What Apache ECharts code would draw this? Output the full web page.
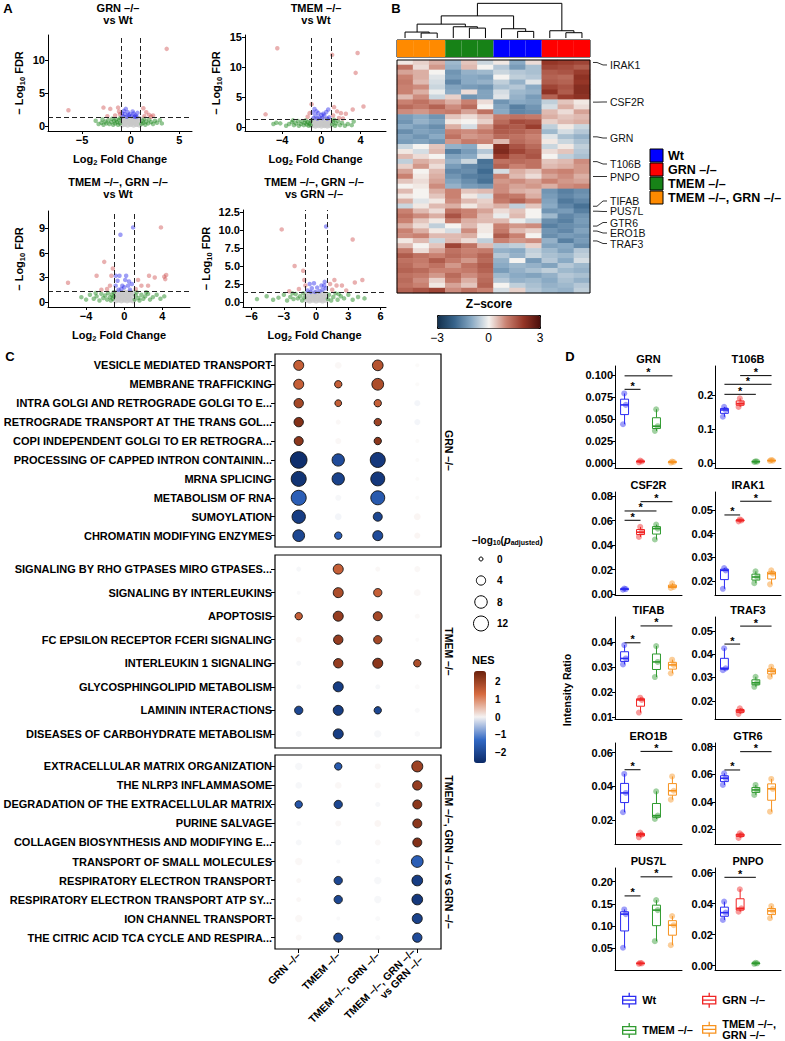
<!DOCTYPE html>
<html><head><meta charset="utf-8">
<script src="https://cdn.jsdelivr.net/npm/echarts@6.0.0/dist/echarts.min.js"></script>
<style>html,body{margin:0;padding:0;background:#fff}#c{width:785px;height:1041px}</style>
</head><body><div id="c"></div>
<script>
// ================= DATA =================
// ---- Panel A: volcano plots ----
const volcanoTitles = ['GRN –/–\nvs Wt', 'TMEM –/–\nvs Wt', 'TMEM –/–, GRN –/–\nvs Wt', 'TMEM –/–, GRN –/–\nvs GRN –/–'];
const volcanoXTicks = [[-5,0,5],[-8,-4,0,4],[-4,0,4],[-6,-3,0,3,6]];
const volcanoYTicks = [[0,5,10],[0,5,10,15],[0,3,6,9],[0,2.5,5,7.5,10,12.5]];
const volcanoYDecimals = [0,0,0,1];
const fcCut = 1;
const fdrCut = 1.3;

const v1Red = [[-6.4,2.4],[3.7,11.7],[-2.8,2.8],[-2.1,2.6],[-1.3,2.8],[-1.2,2.2],[-1.6,1.6],[-2.4,1.5],[1.3,2.7],[1.6,2.1],[1.9,1.7],[2.1,1.4],[1.4,1.5],[-1.1,1.8],[2.3,1.6]];
const v1Blue = [[-0.5,2.6],[-0.7,2.3],[-0.3,2.1],[-0.6,1.8],[-0.2,1.6],[0.1,1.5],[0.3,1.9],[0.5,1.6],[0.6,1.4],[-0.8,1.5],[-0.4,1.4],[0.2,2.2],[-0.1,1.8],[0.7,2.0],[0.4,1.4],[-0.9,1.9]];
const v1Green = [[-3.3,0.3],[-3.0,0.5],[-2.8,0.2],[-2.6,0.7],[-2.5,0.4],[-2.3,0.9],[-2.2,0.3],[-2.0,0.6],[-1.9,1.1],[-1.8,0.2],[-1.7,0.8],[-1.6,0.4],[-1.5,1.0],[-1.4,0.6],[-1.3,0.2],[-1.2,0.9],[-1.1,0.4],[-1.1,1.2],[1.1,0.3],[1.2,0.8],[1.3,0.5],[1.4,1.1],[1.5,0.2],[1.6,0.7],[1.8,0.4],[1.9,1.0],[2.1,0.6],[2.3,0.3],[2.5,0.8],[2.7,0.5],[3.0,0.9],[3.2,0.4],[-3.6,0.8],[-2.9,1.0]];
const v1Gray = [[-0.9,0.2],[-0.6,0.3],[-0.3,0.2],[0.0,0.3],[0.3,0.2],[0.6,0.3],[0.9,0.2],[-0.8,0.7],[-0.5,0.8],[-0.2,0.7],[0.1,0.8],[0.4,0.7],[0.7,0.8],[-0.9,1.1],[-0.6,1.2],[-0.3,1.1],[0.0,1.2],[0.3,1.1],[0.6,1.2],[0.9,1.1],[-0.1,0.5],[0.5,0.5],[-0.7,0.5]];

const v2Red = [[-4.5,13.1],[-5.7,2.1],[1.1,12.0],[3.7,12.3],[3.5,9.0],[4.3,3.4],[3.2,2.9],[2.5,2.2],[1.3,3.3],[1.6,2.6],[2.0,2.3],[1.2,1.9],[-1.0,3.8],[-1.2,2.3],[-1.4,1.7],[1.8,1.5],[2.2,1.4]];
const v2Blue = [[-0.7,3.0],[-0.5,2.6],[-0.3,2.3],[-0.6,1.9],[-0.2,1.6],[0.1,1.5],[0.3,1.9],[0.5,2.5],[0.7,2.9],[0.8,1.6],[-0.8,1.5],[-0.4,1.4],[0.2,2.2],[0.6,1.4],[-0.9,2.4],[0.0,2.0]];
const v2Green = [[-4.9,0.5],[-4.6,0.7],[-4.2,0.6],[-3.6,0.2],[-3.3,0.5],[-3.0,0.8],[-2.8,0.3],[-2.6,0.6],[-2.4,1.0],[-2.3,0.2],[-2.1,0.5],[-2.0,0.9],[-1.8,0.3],[-1.7,0.7],[-1.6,1.1],[-1.5,0.4],[-1.4,0.8],[-1.3,0.2],[-1.2,0.6],[-1.1,1.0],[-1.1,0.3],[1.1,0.4],[1.2,0.9],[1.4,0.2],[1.5,0.6],[1.7,1.0],[1.9,0.3],[2.1,0.7],[2.4,0.2],[2.7,0.5],[3.1,0.3],[3.3,0.9],[1.3,1.2],[-2.9,1.1]];
const v2Gray = [[-0.9,0.3],[-0.6,0.2],[-0.3,0.3],[0.0,0.2],[0.3,0.3],[0.6,0.2],[0.9,0.3],[-0.8,0.7],[-0.5,0.6],[-0.2,0.8],[0.1,0.7],[0.4,0.6],[0.7,0.7],[-0.9,1.1],[-0.6,1.2],[-0.3,1.0],[0.0,1.2],[0.3,1.1],[0.6,1.2],[0.9,1.0],[-0.1,0.5],[0.5,0.4],[-0.7,0.4]];

const v3Red = [[-5.9,2.35],[-2.1,4.9],[-2.9,3.2],[-1.35,3.2],[-1.5,2.0],[-1.2,4.1],[3.85,9.1],[2.6,3.2],[3.2,3.0],[4.2,3.1],[4.4,3.3],[4.3,2.8],[1.45,2.7],[1.8,2.0],[2.5,2.0],[-1.8,1.6],[1.2,1.6],[-2.4,1.5]];
const v3Blue = [[-0.4,8.2],[0.93,9.1],[-0.9,3.2],[-0.5,3.2],[0.2,3.2],[-0.9,2.0],[-0.2,2.0],[0.4,2.0],[0.5,2.5],[-0.7,2.6],[0.1,2.7],[-0.3,1.6],[0.6,1.5],[0.8,2.2],[-0.6,1.5],[0.0,1.8]];
const v3Green = [[-4.5,0.6],[-4.0,0.3],[-3.6,0.9],[-3.2,0.4],[-2.9,0.7],[-2.6,0.2],[-2.4,1.0],[-2.2,0.5],[-2.0,0.8],[-1.8,0.3],[-1.7,1.1],[-1.5,0.6],[-1.4,0.2],[-1.3,0.9],[-1.2,0.4],[-1.1,1.2],[-1.1,0.7],[1.1,0.3],[1.2,0.8],[1.3,1.2],[1.5,0.5],[1.6,0.2],[1.8,0.9],[2.0,0.4],[2.2,0.7],[2.5,1.0],[2.7,0.3],[3.0,0.6],[3.4,0.9],[3.8,0.4],[4.2,0.7],[2.3,1.2],[-3.0,1.1]];
const v3Gray = [[-0.9,0.2],[-0.6,0.3],[-0.3,0.2],[0.0,0.3],[0.3,0.2],[0.6,0.3],[0.9,0.2],[-0.8,0.7],[-0.5,0.8],[-0.2,0.7],[0.1,0.8],[0.4,0.7],[0.7,0.8],[-0.9,1.1],[-0.6,1.2],[-0.3,1.1],[0.0,1.2],[0.3,1.1],[0.6,1.2],[0.9,1.1],[-0.1,0.5],[0.5,0.5],[-0.7,0.5]];

const v4Red = [[-3.2,10.1],[3.4,8.7],[-2.0,5.0],[-1.2,4.35],[-1.1,3.05],[-1.0,2.3],[1.7,3.05],[1.9,2.3],[2.4,2.3],[3.6,2.7],[4.3,3.05],[1.3,2.5],[-1.6,1.8],[2.8,1.6],[-2.5,1.5],[1.5,1.7]];
const v4Blue = [[0.93,10.5],[-0.6,2.5],[-0.2,2.6],[0.5,2.3],[0.75,2.3],[0.8,2.8],[-0.8,1.6],[-0.4,1.9],[0.1,2.0],[0.3,1.5],[0.6,1.7],[-0.1,1.4],[-0.5,1.4],[0.9,1.9]];
const v4Green = [[-5.5,0.4],[-4.6,0.8],[-4.0,0.3],[-3.5,0.6],[-3.0,1.0],[-2.7,0.2],[-2.4,0.7],[-2.1,0.4],[-1.9,1.1],[-1.7,0.5],[-1.5,0.8],[-1.3,0.2],[-1.2,1.2],[-1.1,0.6],[1.1,0.4],[1.2,1.0],[1.4,0.2],[1.6,0.7],[1.8,1.2],[2.0,0.3],[2.3,0.8],[2.6,0.5],[3.0,1.0],[3.4,0.3],[3.9,0.7],[4.5,0.5],[2.1,1.1],[-2.2,1.2]];
const v4Gray = [[-0.9,0.3],[-0.6,0.2],[-0.3,0.3],[0.0,0.2],[0.3,0.3],[0.6,0.2],[0.9,0.3],[-0.8,0.7],[-0.5,0.6],[-0.2,0.8],[0.1,0.7],[0.4,0.6],[0.7,0.7],[-0.9,1.1],[-0.6,1.2],[-0.3,1.0],[0.0,1.2],[0.3,1.1],[0.6,1.2],[0.9,1.0],[-0.1,0.5],[0.5,0.4],[-0.7,0.4]];

// ---- Panel B: heatmap ----
const groupNames = ['Wt', 'GRN –/–', 'TMEM –/–', 'TMEM –/–, GRN –/–'];
const heatColumnGroups = [3,3,3,2,2,2,0,0,0,1,1,1];
// merges: [childA, childB, height]; leaves 0..11, new nodes numbered from 12
const dendroMerges = [[1,2,15],[0,12,18],[4,5,30],[3,14,34],[13,15,42],[7,8,20],[6,17,28],[10,11,16],[9,19,22],[16,18,67],[21,20,105]];
const heatRows = [
[0.1,0.3,0.6,-0.8,0.4,-0.4,0.1,-1.0,0.2,2.0,1.9,1.8],
[1.2,0.2,0.8,-0.9,0.5,0.0,-0.6,-1.2,-0.7,1.8,1.7,1.5],
[0.7,0.6,0.0,-1.3,-0.9,-0.8,-0.4,-0.6,-0.7,1.5,1.6,1.9],
[1.0,0.6,-0.2,-1.2,-1.0,-1.1,0.0,-0.5,-0.6,1.4,1.3,2.1],
[1.1,0.5,-0.3,-1.5,-1.0,-0.9,-0.5,-0.9,-0.2,1.5,1.4,2.0],
[1.0,0.9,-0.4,-1.1,-1.2,-1.3,-0.7,-0.6,-1.0,1.8,1.6,2.2],
[1.0,0.6,-0.1,-1.0,0.2,-1.1,-0.3,-0.8,-0.9,2.1,1.5,2.2],
[0.5,0.9,-0.4,0.3,-1.3,-1.1,-0.2,-0.9,-1.2,1.4,1.9,2.1],
[1.0,1.2,0.9,0.6,1.0,0.2,-1.3,-1.0,-1.1,-0.5,0.4,0.1],
[1.3,1.1,1.4,0.9,1.3,0.0,-1.1,-1.6,-1.3,-0.3,0.6,0.2],
[0.9,0.8,1.0,1.1,0.7,1.2,-1.0,-1.5,-1.4,0.5,0.2,0.7],
[-1.2,-1.0,-1.3,0.4,0.2,0.5,1.1,1.2,1.1,0.6,0.4,0.5],
[-1.3,-0.9,-1.1,0.1,0.0,0.3,1.3,1.7,1.6,0.3,0.5,0.6],
[-1.0,-1.2,-1.4,0.6,-0.3,0.8,1.6,1.5,1.9,-0.5,0.1,-0.4],
[-1.4,-1.1,-1.2,1.0,0.9,1.1,1.5,1.4,1.2,-0.8,-0.3,-0.6],
[-1.1,-1.3,-1.0,1.2,0.8,0.9,1.3,1.2,1.0,-0.2,-0.7,-0.9],
[-1.2,-1.1,-1.3,0.8,1.1,1.0,0.5,1.3,1.1,0.1,-0.4,-0.7],
[-0.4,0.0,0.4,-0.9,-1.0,0.1,2.2,1.6,1.3,-0.4,0.1,-0.5],
[0.1,-0.3,0.5,-1.6,-1.2,-0.6,2.3,1.8,1.5,0.2,0.4,-0.6],
[0.5,0.2,0.0,-1.1,-1.0,-0.2,1.9,1.4,1.6,0.0,-0.5,-0.7],
[-0.5,0.6,0.4,-0.9,-0.4,-1.8,1.2,1.3,1.2,0.4,0.5,0.9],
[0.3,0.8,0.2,-1.2,-1.5,-1.7,1.4,1.0,1.2,0.5,0.6,0.8],
[0.7,0.0,0.5,-1.5,-1.4,-1.9,-0.3,0.6,0.4,0.9,1.0,0.8],
[1.0,0.1,0.6,-1.3,-1.6,-1.7,1.0,0.5,0.2,0.7,0.9,0.6],
[0.4,0.2,0.7,-1.1,-1.4,-1.8,0.8,0.9,0.7,1.0,0.8,0.7],
[0.0,0.1,0.9,-0.9,-1.2,-1.3,0.9,0.7,0.8,0.6,0.9,1.0],
[0.5,0.0,0.6,1.0,0.4,0.5,0.9,0.6,0.5,-1.3,-1.6,-1.4],
[0.1,0.0,0.4,1.0,0.1,-0.3,1.2,1.1,0.6,-1.2,-1.5,-1.3],
[0.6,-0.2,0.1,0.9,0.5,0.3,1.1,1.4,1.0,-1.1,-1.7,-1.5],
[-0.4,0.1,0.5,0.6,0.1,0.4,0.6,-0.5,0.4,-1.0,-1.5,-1.8],
[1.0,0.5,0.2,1.2,1.0,0.7,0.2,0.4,0.0,-1.3,-1.2,-1.6],
[1.2,0.9,0.6,1.6,1.0,0.5,-0.1,0.5,0.0,-0.8,-1.5,-1.3],
[1.0,0.4,0.1,1.1,0.6,0.5,0.5,-0.1,-0.4,-1.4,-1.6,-1.2],
[0.6,0.2,-0.5,0.0,0.5,0.1,1.0,0.8,0.9,-1.6,-1.4,-1.3],
[1.0,0.6,0.1,-0.3,0.9,0.1,1.1,0.5,0.3,-1.3,-1.5,-1.1],
[0.9,1.0,0.5,0.5,0.6,0.0,1.5,1.0,0.0,-1.4,-1.2,-1.3],
[0.1,0.5,-0.4,0.5,0.2,-0.5,1.0,0.8,0.9,-0.9,-1.6,-1.2],
[0.5,0.0,0.4,1.8,1.2,0.5,-0.6,-0.5,0.3,-1.1,-1.0,-1.4],
[1.1,0.2,0.7,1.2,1.0,1.1,-0.9,-1.0,-0.5,-0.8,-1.1,-0.6],
[1.5,1.2,1.0,1.3,1.1,1.4,-0.6,-0.9,-0.4,-0.7,-0.8,-0.5],
[1.2,1.1,1.5,1.1,0.8,1.3,-0.9,0.0,-1.2,-0.6,-1.0,-0.3],
[1.3,1.0,1.2,0.8,1.2,1.5,-1.0,-0.8,-0.9,-1.1,-0.6,-0.8],
[1.4,1.3,1.0,1.0,1.1,1.4,-1.2,-0.9,-0.7,-0.5,-0.8,-0.9],
[1.2,1.1,0.8,1.3,0.9,1.2,-0.8,-1.0,-1.1,-0.9,-0.6,-0.7],
[1.3,0.9,0.3,1.1,0.6,1.3,-0.6,-0.9,-0.8,-1.0,-0.7,-0.9],
[1.2,1.0,0.1,0.7,0.4,1.4,0.0,-0.5,-0.7,-0.9,-0.8,-0.6],
[1.4,1.6,1.8,0.9,1.2,1.0,-0.3,0.3,-0.6,-0.8,-0.9,-0.5]
];
const markedGenes = ['IRAK1','CSF2R','GRN','T106B','PNPO','TIFAB','PUS7L','GTR6','ERO1B','TRAF3'];
const markedRows = [0,8,15,20,23,29,30,33,34,36];
const markedLabelRows = [0.5,7.97,15.24,20.48,23.0,27.94,30.06,32.28,34.4,36.52];
const zTicks = [-3,0,3];

// ---- Panel C: GSEA dot plot ----
const dotColumns = ['GRN –/–','TMEM –/–','TMEM –/–, GRN –/–','TMEM –/–, GRN –/–\nvs GRN –/–'];
const facetNames = ['GRN –/–','TMEM –/–','TMEM –/–, GRN –/– vs GRN –/–'];
const pathwaysA = ['VESICLE MEDIATED TRANSPORT','MEMBRANE TRAFFICKING','INTRA GOLGI AND RETROGRADE GOLGI TO E...','RETROGRADE TRANSPORT AT THE TRANS GOL...','COPI INDEPENDENT GOLGI TO ER RETROGRA...','PROCESSING OF CAPPED INTRON CONTAININ...','MRNA SPLICING','METABOLISM OF RNA','SUMOYLATION','CHROMATIN MODIFYING ENZYMES'];
const nesA = [[1.5,0.1,1.7,0.02],[1.5,1.5,1.8,0.02],[1.9,1.5,1.5,-0.15],[2.3,0.1,2.0,-0.15],[2.2,0.1,2.2,0.02],[-2.5,-1.9,-2.3,0.02],[-2.4,-2.1,-2.3,0.02],[-1.5,-0.1,-1.6,0.02],[-2.2,-0.15,-2.0,0.15],[-2.0,-1.5,-1.9,0.15]];
const padjA = [[4.8,1.7,5.6,0],[4.8,2.2,7,0],[4.1,1.7,2.2,1.15],[4.1,0.5,2.2,1.15],[3.7,1.15,2.2,0],[15,7.8,12,0],[12,7.8,10.3,0],[12,1.15,10.3,0],[9.3,1.7,3.7,1.7],[7,2.2,4.8,1.15]];
const pathwaysB = ['SIGNALING BY RHO GTPASES MIRO GTPASES...','SIGNALING BY INTERLEUKINS','APOPTOSIS','FC EPSILON RECEPTOR FCERI SIGNALING','INTERLEUKIN 1 SIGNALING','GLYCOSPHINGOLIPID METABOLISM','LAMININ INTERACTIONS','DISEASES OF CARBOHYDRATE METABOLISM'];
const nesB = [[-0.1,1.5,0.1,0.1],[-0.05,1.8,1.5,0.1],[1.5,2.1,1.9,0.05],[0.1,2.1,1.9,0.0],[-0.1,2.1,2.2,1.8],[-0.1,-2.2,-0.1,0.0],[-2.0,-2.2,-2.0,-0.05],[-0.1,-2.2,-0.1,-0.05]];
const padjB = [[0.5,4.8,0.5,1.15],[0,4.8,3,1.7],[2.2,4.8,3.7,0.5],[1.15,4.1,3,0],[0.5,4.1,4.8,2.2],[0.5,4.8,0.5,0.5],[3,4.8,2.2,0.5],[1.15,4.8,2.2,0.8]];
const pathwaysC = ['EXTRACELLULAR MATRIX ORGANIZATION','THE NLRP3 INFLAMMASOME','DEGRADATION OF THE EXTRACELLULAR MATRIX','PURINE SALVAGE','COLLAGEN BIOSYNTHESIS AND MODIFYING E...','TRANSPORT OF SMALL MOLECULES','RESPIRATORY ELECTRON TRANSPORT','RESPIRATORY ELECTRON TRANSPORT ATP SY...','ION CHANNEL TRANSPORT','THE CITRIC ACID TCA CYCLE AND RESPIRA...'];
const nesC = [[-0.1,-1.6,0.1,2.0],[-0.1,0.1,0.1,2.1],[-1.7,-2.0,-0.1,2.2],[-0.05,0.1,0.15,2.2],[-0.1,-0.1,0.1,2.3],[0.1,-0.05,-0.05,-1.5],[0.1,-2.0,-0.1,-2.2],[0.1,-2.0,-0.1,-2.3],[0.1,-0.05,-0.05,-2.1],[0.1,-2.0,-0.05,-1.9]];
const padjC = [[2.2,2.2,1.15,6],[1.7,1.7,1.15,4.1],[2.2,3,0.5,3.7],[0.5,1.15,1.7,3.7],[1.15,1.15,1.15,3.7],[2.2,0,0.5,7],[0.5,3,2.2,5.6],[0.5,3,2.2,5.6],[2.2,0,0.5,4.8],[1.15,3.7,0.5,4.1]];
const sizeLegendValues = [0,4,8,12];
const nesTicks = [2,1,0,-1,-2];

// ---- Panel D: box plots ----
const dGroups = ['Wt','GRN –/–','TMEM –/–','TMEM –/–,\nGRN –/–'];
const dGenes = ['GRN','T106B','CSF2R','IRAK1','TIFAB','TRAF3','ERO1B','GTR6','PUS7L','PNPO'];
const ptsGRN   = [[0.044,0.066,0.079],[0.0008,0.0017,0.0028],[0.0365,0.0418,0.061],[0.0005,0.0011,0.0017]];
const ptsT106B = [[0.136,0.156,0.165],[0.165,0.175,0.19],[0.003,0.004,0.005],[0.006,0.007,0.009]];
const ptsCSF2R = [[0.0035,0.004,0.0045],[0.0466,0.0505,0.0548],[0.0445,0.0534,0.0567],[0.005,0.0058,0.0088]];
const ptsIRAK1 = [[0.0167,0.0245,0.0255],[0.0452,0.0456,0.046],[0.0191,0.0217,0.0241],[0.0186,0.0231,0.0245]];
const ptsTIFAB = [[0.0311,0.0335,0.0389],[0.0117,0.0168,0.0177],[0.026,0.0321,0.0385],[0.0275,0.0309,0.033]];
const ptsTRAF3 = [[0.0331,0.0339,0.0425],[0.0144,0.0157,0.0168],[0.026,0.0277,0.0303],[0.0303,0.0327,0.0346]];
const ptsERO1B = [[0.0246,0.0361,0.0474],[0.0097,0.0113,0.0125],[0.0206,0.0226,0.037],[0.0321,0.0374,0.0459]];
const ptsGTR6  = [[0.0522,0.0571,0.0607],[0.0137,0.0159,0.0171],[0.045,0.0486,0.0522],[0.0328,0.0494,0.0566]];
const ptsPUS7L = [[0.0512,0.127,0.1376],[0.015,0.016,0.017],[0.066,0.136,0.1585],[0.057,0.102,0.1225]];
const ptsPNPO  = [[0.0295,0.0342,0.0413],[0.0348,0.037,0.0493],[0.0012,0.0015,0.0018],[0.0306,0.0353,0.0385]];
const sigGRN   = [[1,2,0.0837],[1,4,0.099]];
const sigT106B = [[1,3,0.202],[1,4,0.2315],[2,4,0.257]];
const sigCSF2R = [[1,2,0.0602],[1,3,0.0678],[2,4,0.0754]];
const sigIRAK1 = [[1,2,0.0479],[2,4,0.0537]];
const sigTIFAB = [[1,2,0.0398],[2,4,0.0466]];
const sigTRAF3 = [[1,2,0.0443],[2,4,0.052]];
const sigERO1B = [[1,2,0.0499],[2,4,0.0608]];
const sigGTR6  = [[1,2,0.0631],[2,4,0.0764]];
const sigPUS7L = [[1,2,0.168],[2,4,0.211]];
const sigPNPO  = [[1,3,0.057]];
const ticksGRN = [0,0.025,0.05,0.075,0.1], ticksT106B = [0,0.1,0.2], ticksCSF2R = [0,0.02,0.04,0.06,0.08], ticksIRAK1 = [0.02,0.03,0.04,0.05], ticksTIFAB = [0.01,0.02,0.03,0.04];
const ticksTRAF3 = [0.02,0.03,0.04,0.05], ticksERO1B = [0.02,0.04,0.06], ticksGTR6 = [0.02,0.04,0.06,0.08], ticksPUS7L = [0.05,0.1,0.15,0.2], ticksPNPO = [0,0.02,0.04,0.06];
const jitterOffsets = [-0.1, 0.08, -0.02];

// ================= STYLE / LAYOUT =================
const FONT = "'Liberation Sans', Arial, Helvetica, sans-serif";
const TB = (s, w) => ({fontFamily: FONT, fontSize: s, fontWeight: w || 'bold', color: '#000'});
const fmt = (v, d) => (v < 0 ? '\u2212' : '') + Math.abs(v).toFixed(d);
const grids = [], xAxes = [], yAxes = [], series = [], graphics = [], visualMaps = [], legends = [];
function addGrid(g, xa, ya) {
  const i = grids.length;
  grids.push(Object.assign({outerBoundsMode: 'none', containLabel: false}, g));
  xa.gridIndex = i; ya.gridIndex = i; xAxes.push(xa); yAxes.push(ya); return i;
}
function gText(x, y, text, style, extra) {
  graphics.push(Object.assign({type: 'text', x: x, y: y, silent: true,
    style: Object.assign({text: text, fill: '#000', font: 'bold 12px ' + FONT, align: 'center', verticalAlign: 'middle'}, style)}, extra || {}));
}
const axisBlack = {show: true, onZero: false, lineStyle: {color: '#000', width: 1}};

// ---------- Panel letters ----------
gText(8, 8, 'A', {font: 'bold 13px ' + FONT});
gText(396, 8, 'B', {font: 'bold 13px ' + FONT});
gText(10, 356, 'C', {font: 'bold 13px ' + FONT});
gText(570, 356, 'D', {font: 'bold 13px ' + FONT});

// ---------- Panel A ----------
const volcanoLayout = [
  {left: 48, top: 35, width: 144, height: 96, xr: [-8.5, 6.3], yr: [-0.75, 13.8], tx: 118, ty: 14},
  {left: 245, top: 35, width: 141, height: 96, xr: [-7.8, 6.6], yr: [-0.67, 15.3], tx: 316, ty: 14},
  {left: 48, top: 211, width: 142, height: 96, xr: [-8.0, 6.9], yr: [-0.6, 11.1], tx: 118, ty: 188},
  {left: 243, top: 210, width: 143, height: 97, xr: [-6.8, 6.5], yr: [-0.7, 12.8], tx: 314, ty: 188}
];
const volcanoSets = [
  {gray: v1Gray, green: v1Green, blue: v1Blue, red: v1Red},
  {gray: v2Gray, green: v2Green, blue: v2Blue, red: v2Red},
  {gray: v3Gray, green: v3Green, blue: v3Blue, red: v3Red},
  {gray: v4Gray, green: v4Green, blue: v4Blue, red: v4Red}
];
const volcanoColors = {gray: '#c8c8c8', green: 'rgba(30,135,30,0.6)', blue: 'rgba(35,35,235,0.55)', red: 'rgba(205,75,75,0.55)'};
const subRich = {s: {fontFamily: FONT, fontWeight: 'bold', fontSize: 7.5, color: '#000', padding: [6, 0, 0, 0]}};
volcanoSets.forEach((vs, k) => {
  const L = volcanoLayout[k];
  const gi = addGrid({left: L.left, top: L.top, width: L.width, height: L.height},
    {type: 'value', min: L.xr[0], max: L.xr[1], axisLine: axisBlack, splitLine: {show: false},
     axisTick: {customValues: volcanoXTicks[k], length: 3, lineStyle: {color: '#000'}},
     axisLabel: Object.assign(TB(11), {customValues: volcanoXTicks[k], margin: 3, formatter: v => fmt(v, 0)}),
     name: 'Log{s|2} Fold Change', nameLocation: 'middle', nameGap: 21, nameTextStyle: Object.assign(TB(11), {rich: subRich})},
    {type: 'value', min: L.yr[0], max: L.yr[1], axisLine: axisBlack, splitLine: {show: false},
     axisTick: {customValues: volcanoYTicks[k], length: 3, lineStyle: {color: '#000'}},
     axisLabel: Object.assign(TB(11), {customValues: volcanoYTicks[k], margin: 3, formatter: v => fmt(v, volcanoYDecimals[k])}),
     name: '\u2212 Log{s|10} FDR', nameLocation: 'middle', nameRotate: 90, nameGap: k === 3 ? 30 : 22, nameTextStyle: Object.assign(TB(11), {rich: subRich})});
  ['gray', 'green', 'blue', 'red'].forEach(key => {
    const s = {type: 'scatter', xAxisIndex: gi, yAxisIndex: gi, data: vs[key], symbolSize: key === 'gray' ? 6 : 4.5,
      itemStyle: {color: volcanoColors[key]}, silent: true, clip: true};
    if (key === 'red') {
      s.markLine = {silent: true, symbol: 'none', label: {show: false}, animation: false,
        lineStyle: {type: [5, 3], color: '#222', width: 1},
        data: [{xAxis: -fcCut}, {xAxis: fcCut}, {yAxis: fdrCut}]};
    }
    series.push(s);
  });
  gText(L.tx, L.ty, volcanoTitles[k], {font: 'bold 11px ' + FONT, lineHeight: 12});
});

// ---------- Panel B ----------
const heatColors = ['#13304d', '#37648b', '#8aaac4', '#f5f3f0', '#c98171', '#953627', '#4a0d0a'];
const annoColors = ['#0000ff', '#ff0000', '#178217', '#ff8a00'];
const heatColIds = heatColumnGroups.map((g, i) => 'c' + i);
const heatRowIds = heatRows.map((r, i) => 'r' + i);
// dendrogram
const nodeX = heatColIds.map((c, i) => i + 0.5), nodeH = heatColIds.map(() => 0);
const dendroData = dendroMerges.map(([a, b, h]) => {
  const item = [nodeX[a], nodeH[a], nodeX[b], nodeH[b], h];
  nodeX.push((nodeX[a] + nodeX[b]) / 2); nodeH.push(h); return item;
});
const dg = addGrid({left: 397, top: 3, width: 193, height: 35},
  {type: 'value', min: 0, max: 12, show: false}, {type: 'value', min: 0, max: 106, show: false});
series.push({type: 'custom', xAxisIndex: dg, yAxisIndex: dg, data: dendroData, silent: true, clip: false,
  renderItem: (p, api) => {
    const a = api.coord([api.value(0), api.value(1)]), b = api.coord([api.value(0), api.value(4)]);
    const c = api.coord([api.value(2), api.value(4)]), d = api.coord([api.value(2), api.value(3)]);
    return {type: 'polyline', shape: {points: [a, b, c, d]}, style: {stroke: '#000', lineWidth: 1, fill: null}};
  }});
// annotation bar
const ag = addGrid({left: 397, top: 40, width: 193, height: 17, show: true, borderColor: '#000', borderWidth: 1},
  {type: 'category', data: heatColIds, show: false}, {type: 'value', min: 0, max: 1, show: false});
series.push({type: 'bar', xAxisIndex: ag, yAxisIndex: ag, barCategoryGap: '0%', silent: true,
  data: heatColumnGroups.map(g => ({value: 1, itemStyle: {color: annoColors[g]}}))});
// heatmap
const hg = addGrid({left: 397, top: 60, width: 193, height: 233, show: true, borderColor: '#000', borderWidth: 1, z: 5},
  {type: 'category', data: heatColIds, show: false}, {type: 'category', data: heatRowIds, inverse: true, show: false});
const heatData = [];
heatRows.forEach((row, r) => row.forEach((v, c) => heatData.push([c, r, v])));
const heatSeriesIndex = series.length;
series.push({type: 'heatmap', xAxisIndex: hg, yAxisIndex: hg, data: heatData, silent: true, progressive: 0, itemStyle: {borderWidth: 0}});
visualMaps.push({type: 'continuous', seriesIndex: heatSeriesIndex, dimension: 2, min: -3, max: 3, calculable: false, hoverLink: false,
  orient: 'horizontal', left: 437, top: 315, itemWidth: 13, itemHeight: 103, padding: 0, text: null, showLabel: false,
  borderColor: '#000', borderWidth: 1, inRange: {color: heatColors}});
// marked gene labels
series.push({type: 'custom', xAxisIndex: hg, yAxisIndex: hg, clip: false, silent: true,
  data: markedRows.map((r, i) => [11, r, markedLabelRows[i]]),
  renderItem: (p, api) => {
    const xr = p.coordSys.x + p.coordSys.width;
    const rowY = api.coord([11, api.value(1)])[1];
    const labY = rowY + (api.value(2) - api.value(1)) * api.size([0, 1])[1];
    return {type: 'group', children: [
      {type: 'polyline', shape: {points: [[xr + 3, rowY], [xr + 7, rowY], [xr + 13, labY], [xr + 17, labY]]}, style: {stroke: '#333', lineWidth: 1, fill: null}},
      {type: 'text', style: {text: markedGenes[p.dataIndex], x: xr + 20, y: labY, fill: '#111', font: '10.5px ' + FONT, align: 'left', verticalAlign: 'middle'}}
    ]};
  }});
// annotation legend
groupNames.forEach((n, i) => {
  graphics.push({type: 'rect', silent: true, shape: {x: 650, y: 149 + 14 * i, width: 13, height: 13}, style: {fill: annoColors[i], stroke: '#000', lineWidth: 1}});
  gText(668, 156 + 14 * i, n, {align: 'left', font: 'bold 12.5px ' + FONT});
});
gText(489, 304, 'Z\u2212score', {font: 'bold 12px ' + FONT});
zTicks.forEach(v => gText(437 + (v + 3) / 6 * 103, 338, fmt(v, 0), {font: '12px ' + FONT}));

// ---------- Panel C ----------
const dotColors = ['#0c2a66', '#3168c4', '#f4f2f2', '#d66a3f', '#6a200c'];
const dotSize = v => Math.sqrt(16 + 17.4 * v);
const dotFacets = [
  {names: pathwaysA, nes: nesA, padj: padjA, top: 354, height: 193},
  {names: pathwaysB, nes: nesB, padj: padjB, top: 555, height: 193},
  {names: pathwaysC, nes: nesC, padj: padjC, top: 755, height: 194}
];
const dotSeriesIdx = [];
dotFacets.forEach((F, f) => {
  const n = F.names.length, last = f === dotFacets.length - 1;
  const gi = addGrid({left: 275, top: F.top, width: 166, height: F.height, show: true, borderColor: '#000', borderWidth: 1.2},
    {type: 'value', min: 0.4, max: 4.6, splitLine: {show: false}, axisLine: {show: false},
     axisTick: {show: last, customValues: [1, 2, 3, 4], length: 4, lineStyle: {color: '#000'}},
     axisLabel: Object.assign(TB(10.5), {show: last, customValues: [1, 2, 3, 4], rotate: 45, margin: 5, formatter: v => dotColumns[Math.round(v) - 1], lineHeight: 11})},
    {type: 'value', min: 0.4, max: n + 0.6, inverse: true, splitLine: {show: false}, axisLine: {show: false},
     axisTick: {customValues: F.names.map((x, i) => i + 1), length: 4, lineStyle: {color: '#000'}},
     axisLabel: Object.assign(TB(11), {customValues: F.names.map((x, i) => i + 1), margin: 3, formatter: v => F.names[Math.round(v) - 1]})});
  const data = [];
  F.nes.forEach((row, r) => row.forEach((v, c) => {
    const strong = Math.abs(v) >= 1;
    data.push({value: [c + 1, r + 1, v, F.padj[r][c]],
      itemStyle: strong ? {borderColor: '#111', borderWidth: 0.9, opacity: 1} : {borderWidth: 0, opacity: 0.35}});
  }));
  dotSeriesIdx.push(series.length);
  series.push({type: 'scatter', xAxisIndex: gi, yAxisIndex: gi, data: data, silent: true, symbolSize: val => dotSize(val[3])});
  gText(449, F.top + F.height / 2, facetNames[f], {font: 'bold 10.5px ' + FONT}, {rotation: -Math.PI / 2});
});
visualMaps.push({type: 'continuous', seriesIndex: dotSeriesIdx, dimension: 2, min: -2.6, max: 2.6, calculable: false, hoverLink: false,
  orient: 'vertical', left: 474, top: 671, itemWidth: 12, itemHeight: 92, padding: 0, text: null, showLabel: false,
  inRange: {color: dotColors}});
nesTicks.forEach(v => gText(495, 671 + (2.6 - v) / 5.2 * 92, fmt(v, 0), {align: 'left', font: 'bold 10px ' + FONT}));
gText(472, 660, 'NES', {align: 'left', font: 'bold 11px ' + FONT});
graphics.push({type: 'text', x: 472, y: 540, silent: true, style: {
  text: '\u2212log{s|10}({i|p}{t|adjusted})', fill: '#000', font: 'bold 10px ' + FONT, align: 'left', verticalAlign: 'middle',
  rich: {s: {font: 'bold 7px ' + FONT, padding: [5, 0, 0, 0]}, i: {font: 'italic bold 11px ' + FONT}, t: {font: 'bold 7px ' + FONT, padding: [5, 0, 0, 0]}}}});
sizeLegendValues.forEach((v, i) => {
  graphics.push({type: 'circle', silent: true, shape: {cx: 481, cy: 559 + 21.5 * i, r: dotSize(v) / 2}, style: {fill: '#fff', stroke: '#000', lineWidth: 1}});
  gText(497, 559 + 21.5 * i, String(v), {align: 'left', font: 'bold 10px ' + FONT});
});

// ---------- Panel D ----------
const dColors = ['#2b2bf2', '#f02424', '#2e9a2e', '#f7921e'];
const dPlots = [
  {pts: ptsGRN, sig: sigGRN, ticks: ticksGRN, dec: 3, yr: [-0.0057, 0.1102]},
  {pts: ptsT106B, sig: sigT106B, ticks: ticksT106B, dec: 1, yr: [-0.0147, 0.2853]},
  {pts: ptsCSF2R, sig: sigCSF2R, ticks: ticksCSF2R, dec: 2, yr: [-0.0008, 0.0833]},
  {pts: ptsIRAK1, sig: sigIRAK1, ticks: ticksIRAK1, dec: 2, yr: [0.0141, 0.0576]},
  {pts: ptsTIFAB, sig: sigTIFAB, ticks: ticksTIFAB, dec: 2, yr: [0.0091, 0.0502]},
  {pts: ptsTRAF3, sig: sigTRAF3, ticks: ticksTRAF3, dec: 2, yr: [0.0122, 0.0559]},
  {pts: ptsERO1B, sig: sigERO1B, ticks: ticksERO1B, dec: 2, yr: [0.0057, 0.0658]},
  {pts: ptsGTR6, sig: sigGTR6, ticks: ticksGTR6, dec: 2, yr: [0.0093, 0.0827]},
  {pts: ptsPUS7L, sig: sigPUS7L, ticks: ticksPUS7L, dec: 2, yr: [0.0011, 0.2309]},
  {pts: ptsPNPO, sig: sigPNPO, ticks: ticksPNPO, dec: 2, yr: [-0.0028, 0.063]}
];
const dColLeft = [615, 715], dColWidth = [67, 66];
const dRowTop = [366, 492, 617, 743, 868], dRowBottom = [468, 595, 719, 844, 970];
const quant = (a, p) => { const s = a.slice().sort((x, y) => x - y); const h = (s.length - 1) * p, lo = Math.floor(h); return s[lo] + (h - lo) * ((s[lo + 1] !== undefined ? s[lo + 1] : s[lo]) - s[lo]); };
function renderBox(p, api) {
  const x = api.value(0), w = api.size([0.5, 0])[0];
  const P = [1, 2, 3, 4, 5].map(i => api.coord([x, api.value(i)]));
  const c = api.visual('color');
  const st = {stroke: c, lineWidth: 1, fill: null};
  return {type: 'group', children: [
    {type: 'line', shape: {x1: P[4][0], y1: P[4][1], x2: P[3][0], y2: P[3][1]}, style: st},
    {type: 'line', shape: {x1: P[1][0], y1: P[1][1], x2: P[0][0], y2: P[0][1]}, style: st},
    {type: 'rect', shape: {x: P[3][0] - w / 2, y: P[3][1], width: w, height: P[1][1] - P[3][1]}, style: {stroke: c, lineWidth: 1, fill: '#fff'}},
    {type: 'line', shape: {x1: P[2][0] - w / 2, y1: P[2][1], x2: P[2][0] + w / 2, y2: P[2][1]}, style: {stroke: c, lineWidth: 1.6}}
  ]};
}
function renderSig(p, api) {
  const a = api.coord([api.value(0), api.value(2)]), b = api.coord([api.value(1), api.value(2)]);
  return {type: 'group', children: [
    {type: 'line', shape: {x1: a[0], y1: a[1], x2: b[0], y2: b[1]}, style: {stroke: '#000', lineWidth: 1}},
    {type: 'text', style: {text: '*', x: (a[0] + b[0]) / 2, y: a[1] + 2, align: 'center', verticalAlign: 'bottom', font: 'bold 11px ' + FONT, fill: '#000'}}
  ]};
}
dPlots.forEach((D, k) => {
  const col = k % 2, row = Math.floor(k / 2);
  const top = dRowTop[row], h = dRowBottom[row] - top;
  const gi = addGrid({left: dColLeft[col], top: top, width: dColWidth[col], height: h},
    {type: 'value', min: 0.4, max: 4.6, axisLine: axisBlack, axisTick: {show: false}, axisLabel: {show: false}, splitLine: {show: false}},
    {type: 'value', min: D.yr[0], max: D.yr[1], axisLine: axisBlack, splitLine: {show: false},
     axisTick: {customValues: D.ticks, length: 3, lineStyle: {color: '#000'}},
     axisLabel: Object.assign(TB(11), {customValues: D.ticks, margin: 2, formatter: v => fmt(v, D.dec)})});
  D.pts.forEach((pts, g) => {
    const stats = [g + 1, Math.min(...pts), quant(pts, 0.25), quant(pts, 0.5), quant(pts, 0.75), Math.max(...pts)];
    series.push({type: 'custom', name: dGroups[g], xAxisIndex: gi, yAxisIndex: gi, data: [stats], renderItem: renderBox,
      itemStyle: {color: dColors[g]}, silent: true, clip: false});
    series.push({type: 'scatter', name: dGroups[g], xAxisIndex: gi, yAxisIndex: gi, silent: true, symbolSize: 6,
      itemStyle: {color: dColors[g], opacity: 0.45}, data: pts.map((v, j) => [g + 1 + jitterOffsets[j], v])});
  });
  series.push({type: 'custom', xAxisIndex: gi, yAxisIndex: gi, data: D.sig, renderItem: renderSig, silent: true, clip: false});
  gText(dColLeft[col] + dColWidth[col] / 2, top - 7, dGenes[k], {font: 'bold 11px ' + FONT});
});
gText(567, 690, 'Intensity Ratio', {font: 'bold 10.5px ' + FONT}, {rotation: Math.PI / 2});
const boxIcon = 'path://M8,0 L8,4 M1,4 L15,4 L15,12 L1,12 Z M8,12 L8,16 M1,8 L15,8';
const legItem = g => ({name: dGroups[g], icon: boxIcon, itemStyle: {color: 'rgba(255,255,255,0)', borderColor: dColors[g], borderWidth: 1.3}});
const legBase = {orient: 'vertical', itemWidth: 16, itemHeight: 15, selectedMode: false, padding: 0, height: 120,
  textStyle: Object.assign(TB(11), {lineHeight: 11.5})};
legends.push(Object.assign({left: 622, top: 992, itemGap: 14, data: [legItem(0), legItem(2)]}, legBase));
legends.push(Object.assign({left: 702, top: 992, itemGap: 9.5, data: [legItem(1), legItem(3)]}, legBase));

// ================= RENDER =================
const chart = echarts.init(document.getElementById('c'), null, {renderer: 'svg', width: 785, height: 1041});
chart.setOption({
  animation: false,
  textStyle: {fontFamily: FONT},
  grid: grids, xAxis: xAxes, yAxis: yAxes, series: series,
  visualMap: visualMaps, legend: legends, graphic: {elements: graphics}
});
</script></body></html>
